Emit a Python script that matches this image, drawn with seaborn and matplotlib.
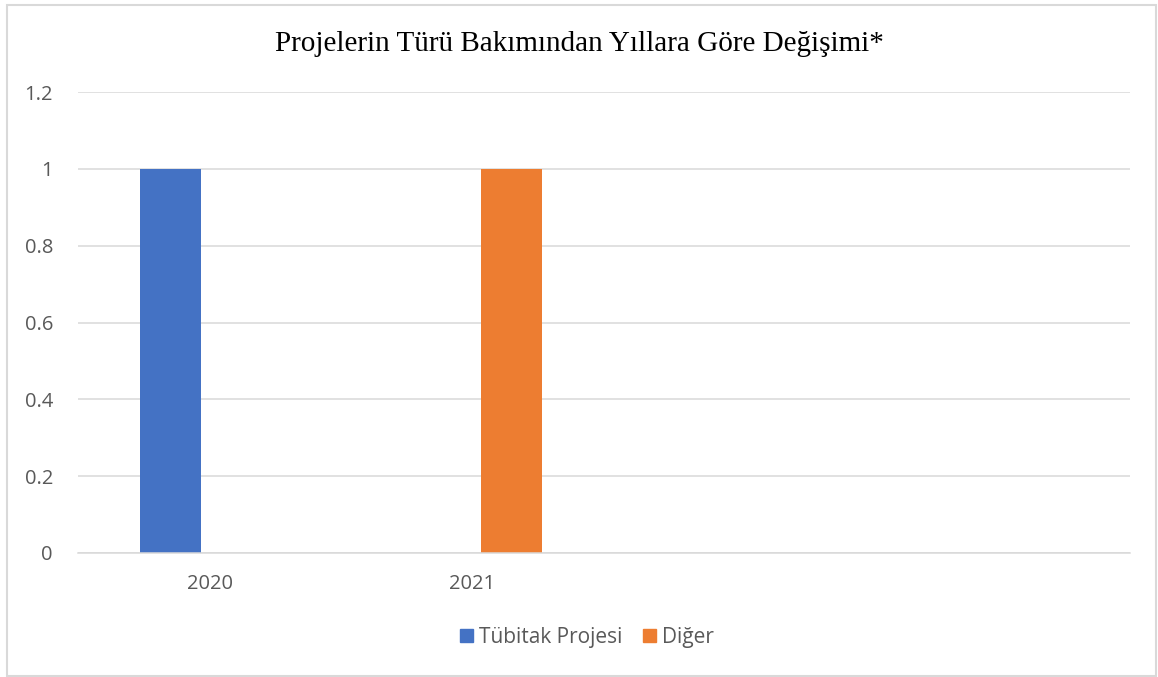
import matplotlib.pyplot as plt
import matplotlib.patches as mpatches
import pandas as pd
import seaborn as sns

# chart data
years = ["2020", "2021"]
tubitak = [1, 0]
diger = [0, 1]
series_names = ["Tübitak Projesi", "Diğer"]
slots = ["2020", "2021", "slot3", "slot4"]
slot_labels = ["2020", "2021", "", ""]
y_ticks = [0, 0.2, 0.4, 0.6, 0.8, 1, 1.2]
y_tick_labels = ["0", "0.2", "0.4", "0.6", "0.8", "1", "1.2"]
colors = ["#4472C4", "#ED7D31"]

df = pd.DataFrame({
    "year": years * 2,
    "value": tubitak + diger,
    "series": [series_names[0]] * len(years) + [series_names[1]] * len(years),
})

sns.set_style("white")
plt.rcParams["font.family"] = ["Open Sans", "DejaVu Sans"]

fig = plt.figure(figsize=(11.58, 6.77), dpi=100)
ax = fig.add_axes([78 / 1158, 1 - 553 / 677, 1052 / 1158, 461 / 677])

sns.barplot(
    data=df, x="year", y="value", hue="series", order=slots,
    hue_order=series_names, palette=colors, width=0.594, gap=0.23,
    saturation=1, ax=ax, legend=False, linewidth=0,
)

ax.set_xlim(-0.5, 3.5)
ax.set_ylim(0, 1.2)
ax.set_yticks(y_ticks)
ax.set_yticklabels(y_tick_labels)
ax.set_xticks(range(len(slots)))
ax.set_xticklabels(slot_labels)
ax.yaxis.grid(True, color="#D9D9D9", linewidth=1.1)
ax.set_axisbelow(True)
for side in ["left", "right", "top"]:
    ax.spines[side].set_visible(False)
ax.spines["bottom"].set_color("#D9D9D9")
ax.spines["bottom"].set_linewidth(1.1)
ax.tick_params(axis="both", length=0, labelsize=14.5, labelcolor="#595959")
ax.tick_params(axis="x", pad=15)
ax.tick_params(axis="y", pad=18)
ax.set_xlabel("")
ax.set_ylabel("")

fig.text(0.5, 1 - 44 / 677, "Projelerin Türü Bakımından Yıllara Göre Değişimi*",
         ha="center", va="center", fontsize=21, family="Liberation Serif",
         color="black")

handles = [mpatches.Patch(color=c, label=n) for c, n in zip(colors, series_names)]
leg = fig.legend(handles=handles, loc="center",
                 bbox_to_anchor=(0.5 + 8 / 1158, 1 - 637 / 677),
                 ncol=2, frameon=False, fontsize=15, handlelength=0.6,
                 handleheight=0.6, handletextpad=0.3, columnspacing=1.0)
for t in leg.get_texts():
    t.set_color("#595959")

fig.patches.append(mpatches.Rectangle((7 / 1158, 1 / 677), 1149 / 1158, 671 / 677,
                                      transform=fig.transFigure, fill=False,
                                      edgecolor="#D9D9D9", linewidth=1.5))

fig.savefig("out.png", dpi=100)
